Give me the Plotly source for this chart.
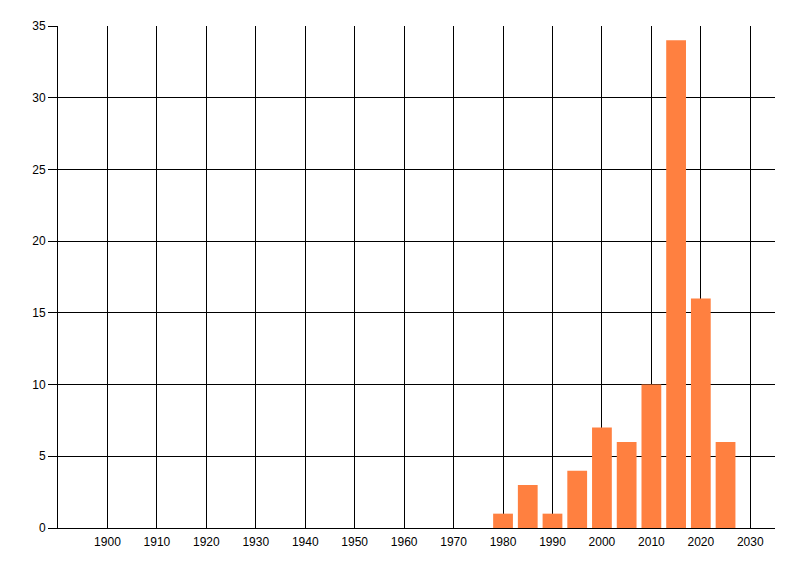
import plotly.graph_objects as go

# Bar data (5-year bins)
years = [1980, 1985, 1990, 1995, 2000, 2005, 2010, 2015, 2020, 2025]
counts = [1, 3, 1, 4, 7, 6, 10, 34, 16, 6]

# Labelled x ticks (the axis starts at 1890 but that one is unlabelled)
x_ticks = [1900, 1910, 1920, 1930, 1940, 1950, 1960,
           1970, 1980, 1990, 2000, 2010, 2020, 2030]
y_ticks = [0, 5, 10, 15, 20, 25, 30, 35]

fig = go.Figure()
fig.add_trace(go.Bar(x=years, y=counts, marker_color="#FF8040",
                     marker_line_width=0, width=4))

# MS Chart-like look: black grid, no frame on top/right
# (margins allow for the page's 8px body offset)
fig.update_layout(
    width=800, height=576,
    margin=dict(l=50, r=33, t=18, b=56),
    paper_bgcolor="white", plot_bgcolor="white",
    font=dict(family="Liberation Sans, Arial, sans-serif", size=12, color="black"),
    showlegend=False,
)
fig.update_xaxes(range=[1890, 2035], tickvals=x_ticks, automargin=False,
                 showgrid=True, gridcolor="black", gridwidth=1,
                 showline=True, linecolor="black", linewidth=1,
                 ticks="outside", ticklen=3, tickcolor="rgba(0,0,0,0)",
                 zeroline=False)
fig.update_yaxes(range=[0, 35], tickvals=y_ticks, automargin=False,
                 showgrid=True, gridcolor="black", gridwidth=1,
                 showline=True, linecolor="black", linewidth=1,
                 ticks="outside", ticklen=9, tickcolor="black",
                 zeroline=False)

fig.write_html("out.html")
